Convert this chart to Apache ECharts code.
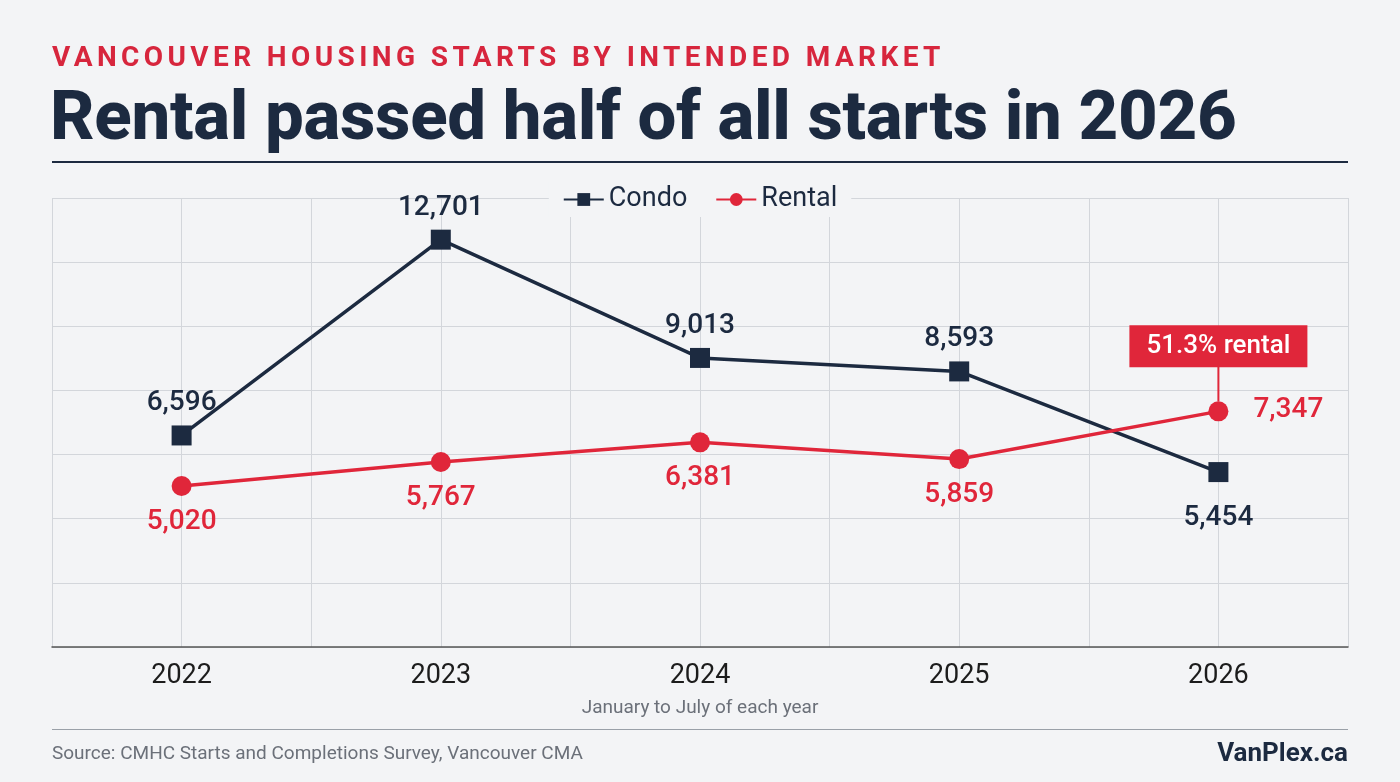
<!DOCTYPE html>
<html><head><meta charset="utf-8">
<script src="https://cdn.jsdelivr.net/npm/echarts@6/dist/echarts.min.js"></script>
<style>
html,body{margin:0;padding:0;background:#f3f4f6;font-family:Roboto,"Noto Sans",sans-serif;}
#wrap{position:relative;width:1400px;height:782px;}
#chart{position:absolute;left:0;top:0;width:1400px;height:782px;}
.kick{position:absolute;left:52px;top:40px;font-size:28px;font-weight:700;color:#d7263d;letter-spacing:4.4px;}
.ttl{position:absolute;left:50px;top:75px;font-size:69px;font-weight:800;color:#1c2a40;letter-spacing:-0.3px;}
.rule{position:absolute;left:52px;width:1296px;height:2px;background:#1c2a40;}
</style></head><body>
<div id="wrap">
<div id="chart"></div>
<div class="kick">VANCOUVER HOUSING STARTS BY INTENDED MARKET</div>
<div class="ttl">Rental passed half of all starts in 2026</div>
<div class="rule" style="top:161px"></div>
<div class="rule" style="top:729px;height:1px;background:#9aa0a8"></div>
</div>
<script>
const years = ['2022','2023','2024','2025','2026'];
const condo = [6596, 12701, 9013, 8593, 5454];
const rental = [5020, 5767, 6381, 5859, 7347];
const rentalShare = '51.3% rental';

const navy = '#1c2a40', red = '#e0263a';
const fmt = v => v.toLocaleString('en-US');
const chart = echarts.init(document.getElementById('chart'));
chart.setOption({
  backgroundColor: 'transparent',
  textStyle: {fontFamily: 'Roboto'},
  grid: {left: 52, right: 52, top: 198, bottom: 135},
  legend: {
    top: 182, left: 'center', itemGap: 28, itemWidth: 40, itemHeight: 16,
    backgroundColor: '#f3f4f6', padding: [4, 14],
    textStyle: {fontSize: 27, color: '#1c2a40', fontFamily: 'Roboto'},
    data: ['Condo', 'Rental']
  },
  xAxis: {
    type: 'value', min: -0.5, max: 4.5, interval: 0.5,
    axisLine: {show: true, lineStyle: {color: '#555', width: 1.5}},
    axisTick: {show: false},
    splitLine: {show: true, lineStyle: {color: '#d3d6db'}},
    axisLabel: {
      fontSize: 27, color: '#1c1c1c', margin: 16,
      formatter: v => Number.isInteger(v) ? years[v] : ''
    },
    name: 'January to July of each year', nameLocation: 'middle', nameGap: 52,
    nameTextStyle: {fontSize: 19, color: '#6b7079'}
  },
  yAxis: {
    type: 'value', min: 0, max: 14000, interval: 2000,
    axisLabel: {show: false}, axisLine: {show: false}, axisTick: {show: false},
    splitLine: {lineStyle: {color: '#d3d6db'}}
  },
  graphic: [
    {type: 'text', left: 52, top: 745, style: {text: 'Source: CMHC Starts and Completions Survey, Vancouver CMA', fontSize: 19, fill: '#6b7079', fontFamily: 'Roboto'}},
    {type: 'text', right: 52, top: 741, style: {text: 'VanPlex.ca', fontSize: 26, fontWeight: 'bold', fill: '#1c2a40', fontFamily: 'Roboto'}}
  ],
  series: [
    {
      name: 'Condo', type: 'line', data: condo.map((v, i) => [i, v]),
      symbol: 'rect', symbolSize: 20, color: navy,
      lineStyle: {width: 3.5, color: navy}, itemStyle: {color: navy},
      label: {show: true, position: 'top', distance: 8, fontSize: 28, fontWeight: 500, color: navy,
        formatter: p => fmt(p.value[1])},
      labelLayout: p => p.dataIndex === 4 ? {dy: 78} : {},
      z: 3
    },
    {
      name: 'Rental', type: 'line', data: rental.map((v, i) => [i, v]),
      symbol: 'circle', symbolSize: 20, color: red,
      lineStyle: {width: 3.5, color: red}, itemStyle: {color: red},
      label: {show: true, position: 'bottom', distance: 12, fontSize: 28, fontWeight: 500, color: red,
        formatter: p => fmt(p.value[1])},
      labelLayout: p => p.dataIndex === 4 ? {dx: 70, dy: -37} : {},
      markPoint: {
        silent: true,
        data: [
          {coord: [4, rental[4]], symbol: 'rect', symbolSize: [2, 40], symbolOffset: [0, -30],
            itemStyle: {color: red}, label: {show: false}},
          {coord: [4, rental[4]], symbol: 'rect', symbolSize: [178, 42], symbolOffset: [0, -65],
            itemStyle: {color: red},
            label: {show: true, formatter: rentalShare, color: '#fff', fontSize: 26, fontWeight: 500}}
        ]
      },
      z: 4
    }
  ]
});
</script></body></html>
